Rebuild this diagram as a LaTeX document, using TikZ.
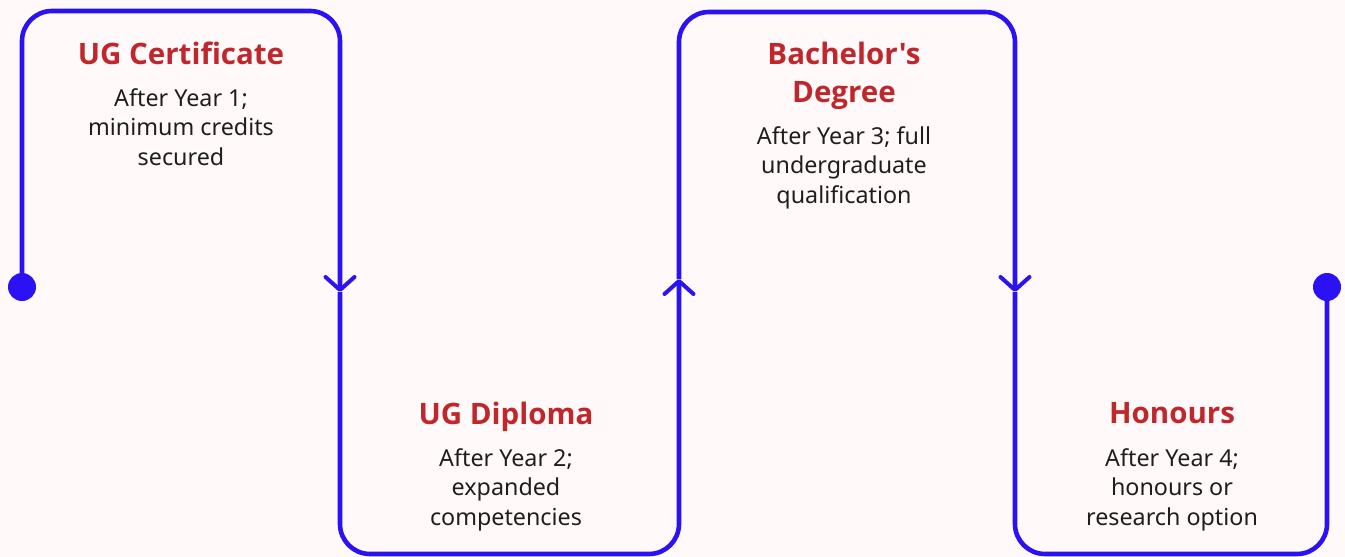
\documentclass[tikz,border=0pt]{standalone}
\usepackage{fontspec}
\setmainfont{Noto Sans}
\newfontfamily\titlefont{Open Sans}[Ligatures=TeXOff]
\usetikzlibrary{arrows.meta}
\definecolor{bg}{HTML}{FFFAF9}
\definecolor{flow}{HTML}{2A12F5}
\definecolor{ttl}{HTML}{C0272D}
\definecolor{txt}{HTML}{1E1E1E}
\tikzset{
  flowline/.style={draw=flow, line width=4.6pt, rounded corners=30pt},
  chev/.style={-{Straight Barb[length=13pt,width=29pt,line width=4pt,round]}},
  dotnode/.style={circle, fill=flow, inner sep=0pt, minimum size=28pt},
  titlenode/.style={anchor=north, inner sep=0pt, align=center, text=ttl,
    font=\titlefont\bfseries\fontsize{29.5}{38}\selectfont},
  bodynode/.style={anchor=north, inner sep=0pt, align=center, text=txt,
    font=\fontsize{23.3}{29.5}\selectfont},
}
\begin{document}
\begin{tikzpicture}[x=1pt,y=-1pt]
\fill[bg] (0,0) rectangle (1345,557);
\useasboundingbox (0,0) rectangle (1345,557);
% dots and waypoints
\node[dotnode] (s) at (22,287) {};
\node[dotnode] (e) at (1327,287) {};
\coordinate (t1) at (181,11);
\coordinate (b1) at (510,554);
\coordinate (t2) at (847,12);
\coordinate (b2) at (1171,554);
\coordinate (m1) at (340,292);
\coordinate (m2) at (679,279);
\coordinate (m3) at (1015,292);
% flow
\draw[flowline, chev] (s.center) |- (t1) -| (m1);
\draw[flowline, chev] (m1) |- (b1) -| (m2);
\draw[flowline, chev] (m2) |- (t2) -| (m3);
\draw[flowline] (m3) |- (b2) -| (e.center);
% texts
\node[titlenode] (c1) at (181,42) {UG Certificate};
\node[bodynode] (c1b) at (181,88) {After Year 1;\\minimum credits\\secured};
\node[titlenode] (c2) at (506,402) {UG Diploma};
\node[bodynode] (c2b) at (506,448) {After Year 2;\\expanded\\competencies};
\node[titlenode] (c3) at (844,42) {Bachelor's\\Degree};
\node[bodynode] (c3b) at (844,126) {After Year 3; full\\undergraduate\\qualification};
\node[titlenode] (c4) at (1172,402) {Honours};
\node[bodynode] (c4b) at (1172,448) {After Year 4;\\honours or\\research option};
\end{tikzpicture}
\end{document}
